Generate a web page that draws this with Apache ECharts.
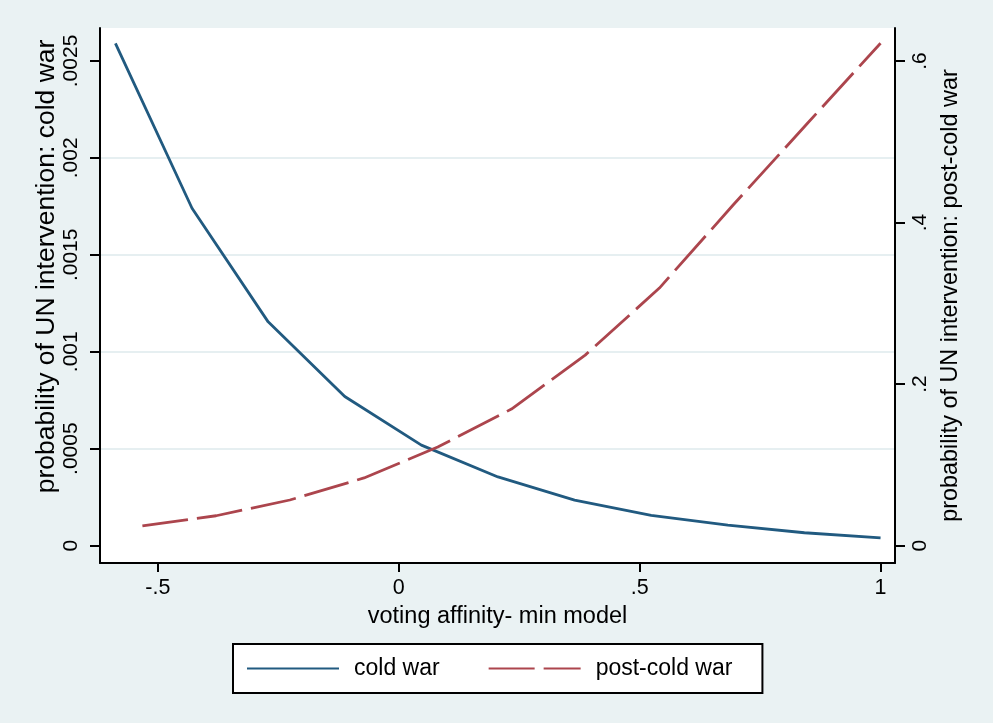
<!DOCTYPE html>
<html>
<head>
<meta charset="utf-8">
<script src="https://cdn.jsdelivr.net/npm/echarts@6/dist/echarts.min.js"></script>
<style>
html,body{margin:0;padding:0;background:#eaf2f3;}
#chart{width:993px;height:723px;}
</style>
</head>
<body>
<div id="chart"></div>
<script>
// ---- data ----
const coldX = [-0.588, -0.429, -0.271, -0.112, 0.047, 0.206, 0.365, 0.524, 0.683, 0.842, 1.0];
const coldY = [0.002591, 0.001740, 0.001154, 0.000769, 0.000518, 0.000354, 0.000234, 0.000156, 0.000105, 0.000066, 0.000040];
const postX = [-0.532, -0.379, -0.226, -0.072, 0.081, 0.234, 0.387, 0.541, 0.694, 0.847, 1.0];
const postY = [0.0243, 0.0369, 0.0564, 0.0837, 0.1220, 0.1690, 0.2358, 0.3188, 0.4216, 0.5219, 0.6220];

const seriesNames = ['cold war', 'post-cold war'];
const xTicks = [-0.5, 0, 0.5, 1];
const xTickLabels = ['-.5', '0', '.5', '1'];
const leftTicks = [0, 0.0005, 0.001, 0.0015, 0.002, 0.0025];
const leftTickLabels = ['0', '.0005', '.001', '.0015', '.002', '.0025'];
const rightTicks = [0, 0.2, 0.4, 0.6];
const rightTickLabels = ['0', '.2', '.4', '.6'];
const xTitle = 'voting affinity- min model';
const leftTitle = 'probability of UN intervention: cold war';
const rightTitle = 'probability of UN intervention: post-cold war';

// ---- chart ----
const FONT = "'Liberation Sans', Arial, Helvetica, sans-serif";
const BLUE = '#215a80';
const RED = '#ac454d';
const fmt = (ticks, labels) => v => {
  const i = ticks.findIndex(t => Math.abs(t - v) < 1e-9);
  return i >= 0 ? labels[i] : '';
};

const chart = echarts.init(document.getElementById('chart'), null, {renderer: 'canvas'});
chart.setOption({
  backgroundColor: '#eaf2f3',
  animation: false,
  textStyle: {fontFamily: FONT, color: '#000'},
  grid: {
    left: 100, right: 98, top: 28, bottom: 160,
    show: true, backgroundColor: '#ffffff', borderWidth: 0,
    outerBoundsMode: 'none', containLabel: false
  },
  xAxis: {
    type: 'value', min: -0.62, max: 1.03,
    name: xTitle, nameLocation: 'middle', nameGap: 42,
    nameTextStyle: {fontSize: 23.5, color: '#000', fontFamily: FONT},
    axisLine: {show: true, onZero: false, lineStyle: {color: '#000', width: 2}},
    axisTick: {show: true, length: 9, customValues: xTicks, lineStyle: {color: '#000', width: 2}},
    axisLabel: {show: true, customValues: xTicks, formatter: fmt(xTicks, xTickLabels),
      fontSize: 21.5, color: '#000', margin: 14, fontFamily: FONT},
    splitLine: {show: false}
  },
  yAxis: [
    {
      type: 'value', position: 'left', min: -0.00009, max: 0.00267,
      name: leftTitle, nameLocation: 'middle', nameRotate: 90, nameGap: 40,
      nameMoveOverlap: false,
      nameTextStyle: {fontSize: 26.5, color: '#000', fontFamily: FONT, padding: [0, 0, 0, 58]},
      axisLine: {show: true, onZero: false, lineStyle: {color: '#000', width: 2}},
      axisTick: {show: true, length: 10, customValues: leftTicks, lineStyle: {color: '#000', width: 2}},
      axisLabel: {show: true, customValues: leftTicks, formatter: fmt(leftTicks, leftTickLabels),
        rotate: 90, fontSize: 21, color: '#000', margin: 18, fontFamily: FONT},
      splitLine: {show: true, showMinLine: false, showMaxLine: false,
        lineStyle: {color: '#e6eff1', width: 2}}
    },
    {
      type: 'value', position: 'right', min: -0.0216, max: 0.6408,
      name: rightTitle, nameLocation: 'middle', nameRotate: 90, nameGap: 44,
      nameTextStyle: {fontSize: 23.4, color: '#000', fontFamily: FONT},
      axisLine: {show: true, onZero: false, lineStyle: {color: '#000', width: 2}},
      axisTick: {show: true, length: 10, customValues: rightTicks, lineStyle: {color: '#000', width: 2}},
      axisLabel: {show: true, customValues: rightTicks, formatter: fmt(rightTicks, rightTickLabels),
        rotate: 90, fontSize: 21, color: '#000', margin: 15, fontFamily: FONT},
      splitLine: {show: false}
    }
  ],
  legend: {
    left: 233, top: 644,
    orient: 'horizontal',
    data: seriesNames,
    backgroundColor: '#ffffff',
    borderColor: '#000', borderWidth: 2, borderRadius: 0,
    padding: [12, 30, 12, 13],
    itemWidth: 92, itemHeight: 14, itemGap: 48,
    selectedMode: false,
    itemStyle: {opacity: 0},
    textStyle: {fontSize: 23, color: '#000', fontFamily: FONT, lineHeight: 25, padding: [0, 0, 0, 10]}
  },
  series: [
    {
      name: seriesNames[0], type: 'line', yAxisIndex: 0,
      data: coldX.map((x, i) => [x, coldY[i]]),
      symbol: 'none', smooth: false, clip: false,
      lineStyle: {color: BLUE, width: 2.8},
      itemStyle: {color: BLUE}
    },
    {
      name: seriesNames[1], type: 'line', yAxisIndex: 1,
      data: postX.map((x, i) => [x, postY[i]]),
      symbol: 'none', smooth: false, clip: false,
      lineStyle: {color: RED, width: 2.8, type: [46, 9]},
      itemStyle: {color: RED}
    }
  ]
});
</script>
</body>
</html>
